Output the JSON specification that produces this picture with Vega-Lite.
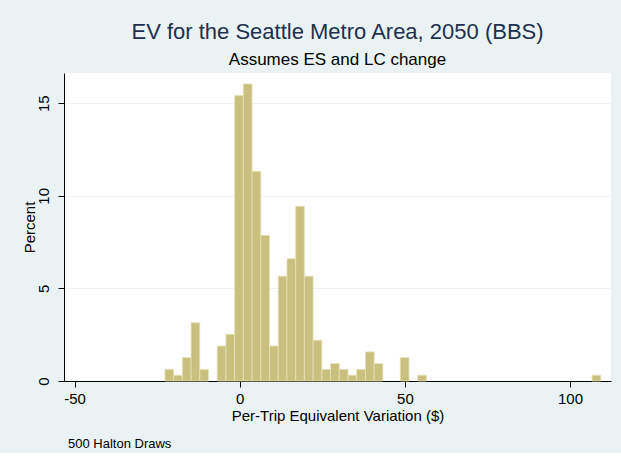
{
  "$schema": "https://vega.github.io/schema/vega-lite/v6.json",
  "background": "#EAF2F3",
  "padding": {"left": 22, "top": 21, "right": 10, "bottom": 2},
  "config": {
    "font": "Liberation Sans",
    "view": {"fill": "#FFFFFF", "stroke": null},
    "axis": {
      "domainColor": "#000000", "domainWidth": 1,
      "tickColor": "#000000", "tickWidth": 1, "tickSize": 6,
      "labelFont": "Liberation Sans", "labelFontSize": 15, "labelColor": "#000000",
      "titleFont": "Liberation Sans", "titleFontSize": 15, "titleFontWeight": "normal", "titleColor": "#000000"
    }
  },
  "title": {
    "text": "500 Halton Draws",
    "orient": "bottom",
    "anchor": "start",
    "fontSize": 13,
    "fontWeight": "normal",
    "font": "Liberation Sans",
    "color": "#000000",
    "offset": 15,
    "dx": 46
  },
  "vconcat": [
    {
      "width": 547,
      "height": 308,
      "title": {
        "text": "EV for the Seattle Metro Area, 2050 (BBS)",
        "subtitle": "Assumes ES and LC change",
        "anchor": "middle",
        "font": "Liberation Sans",
        "subtitleFont": "Liberation Sans",
        "fontSize": 22,
        "subtitleFontSize": 17,
        "fontWeight": "normal",
        "color": "#1F2F50",
        "subtitleColor": "#000000",
        "subtitlePadding": 8,
        "offset": 4
      },
      "data": {
        "values": [
          {"bin_start": -22.65, "bin_end": -20.01, "percent": 0.63},
          {"bin_start": -20.01, "bin_end": -17.37, "percent": 0.31},
          {"bin_start": -17.37, "bin_end": -14.73, "percent": 1.26},
          {"bin_start": -14.73, "bin_end": -12.09, "percent": 3.14},
          {"bin_start": -12.09, "bin_end": -9.45, "percent": 0.63},
          {"bin_start": -6.82, "bin_end": -4.18, "percent": 1.89},
          {"bin_start": -4.18, "bin_end": -1.54, "percent": 2.52},
          {"bin_start": -1.54, "bin_end": 1.10, "percent": 15.41},
          {"bin_start": 1.10, "bin_end": 3.74, "percent": 16.04},
          {"bin_start": 3.74, "bin_end": 6.38, "percent": 11.32},
          {"bin_start": 6.38, "bin_end": 9.02, "percent": 7.86},
          {"bin_start": 9.02, "bin_end": 11.66, "percent": 1.89},
          {"bin_start": 11.66, "bin_end": 14.30, "percent": 5.66},
          {"bin_start": 14.30, "bin_end": 16.94, "percent": 6.60},
          {"bin_start": 16.94, "bin_end": 19.58, "percent": 9.43},
          {"bin_start": 19.58, "bin_end": 22.22, "percent": 5.66},
          {"bin_start": 22.22, "bin_end": 24.86, "percent": 2.20},
          {"bin_start": 24.86, "bin_end": 27.50, "percent": 0.63},
          {"bin_start": 27.50, "bin_end": 30.14, "percent": 0.94},
          {"bin_start": 30.14, "bin_end": 32.78, "percent": 0.63},
          {"bin_start": 32.78, "bin_end": 35.42, "percent": 0.31},
          {"bin_start": 35.42, "bin_end": 38.06, "percent": 0.63},
          {"bin_start": 38.06, "bin_end": 40.70, "percent": 1.57},
          {"bin_start": 40.70, "bin_end": 43.34, "percent": 0.94},
          {"bin_start": 48.61, "bin_end": 51.25, "percent": 1.26},
          {"bin_start": 53.89, "bin_end": 56.53, "percent": 0.31},
          {"bin_start": 106.67, "bin_end": 109.31, "percent": 0.31}
        ]
      },
      "mark": {"type": "bar", "fill": "#C9C07E", "stroke": "#E6E1B9", "strokeWidth": 0.8},
      "encoding": {
        "x": {
          "field": "bin_start",
          "type": "quantitative",
          "title": "Per-Trip Equivalent Variation ($)",
          "scale": {"domain": [-53.2, 112.4], "nice": false, "zero": false},
          "axis": {"values": [-50, 0, 50, 100], "grid": false, "labelPadding": 4, "titlePadding": 2, "labelFlush": false, "labelExpr": "replace(datum.label, '\u2212', '-')"}
        },
        "x2": {"field": "bin_end"},
        "y": {
          "field": "percent",
          "type": "quantitative",
          "title": "Percent",
          "scale": {"domain": [0, 16.63], "nice": false},
          "axis": {
            "values": [0, 5, 10, 15],
            "grid": true, "gridColor": "#EAF2F3", "gridWidth": 1,
            "labelAngle": -90, "labelAlign": "center", "labelBaseline": "bottom",
            "labelPadding": 7, "titlePadding": -1, "labelFlush": false
          }
        },
        "y2": {"datum": 0}
      }
    }
  ]
}
